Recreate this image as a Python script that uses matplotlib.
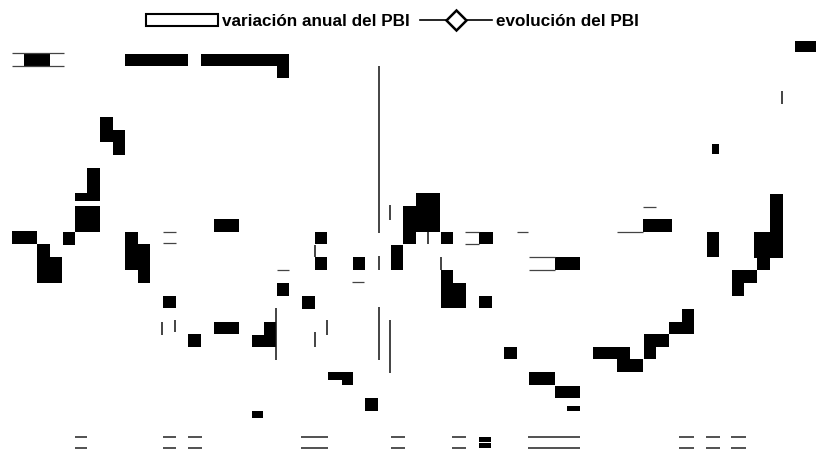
import matplotlib
matplotlib.use('Agg')
import matplotlib.pyplot as plt
from matplotlib.patches import Patch
from matplotlib.lines import Line2D

plt.rcParams['font.family'] = ['Liberation Sans', 'DejaVu Sans']

# bloques negros (x izq, x der, y arriba, y abajo)
top_blocks = [(24, 50, 54, 66), (125, 188, 54, 66), (201, 289, 54, 66),
              (277, 289, 66, 78), (795, 816, 41, 52)]
left_blocks = [(100, 112.5, 117, 142), (112.5, 125, 130, 155), (87, 99.5, 168, 193),
               (75, 99.5, 193, 201), (75, 99.5, 206, 232), (12, 37, 231, 244),
               (37, 49.5, 244, 283), (49.5, 62, 257, 283), (62.5, 75, 232, 245),
               (125, 137.5, 232, 270), (137.5, 150, 244, 283), (163, 176, 296, 308),
               (214, 239, 219, 232), (188, 201, 334, 347), (214, 239, 322, 334),
               (252, 276, 335, 347), (264, 276, 322, 335), (252, 263, 411, 418)]
mid_blocks = [(276.5, 289, 283, 296), (302, 314.5, 296, 309), (314.5, 327, 232, 244),
              (314.5, 327, 257, 270), (352.5, 364.5, 257, 270), (328, 342, 372, 380),
              (342, 352.5, 372, 385), (365, 378, 398, 411), (391, 403, 245, 270),
              (403, 415.5, 206, 244), (415.5, 440, 193, 232), (441, 453, 232, 244),
              (478.5, 492.5, 232, 244), (441, 453, 270, 308), (453, 466, 283, 308),
              (479, 491.5, 296, 308), (504, 516.5, 347, 359), (529, 555, 372, 385),
              (555, 580, 386, 398), (567, 580, 406, 411), (555, 580, 257, 270)]
right_blocks = [(643, 671.5, 219, 232), (706.5, 718.5, 232, 257), (712, 718.5, 144, 154),
                (770, 782.5, 194, 258), (753.5, 770, 232, 258), (756.5, 770, 258, 270),
                (731.5, 756.5, 270, 283), (731.5, 744, 283, 296), (681.5, 694, 309, 334),
                (668.5, 681.5, 322, 334), (643.5, 668.5, 334, 347), (643.5, 656, 347, 359),
                (592.5, 630, 347, 359), (617, 643, 359, 372)]

# lineas finas (y, x0, x1) y (x, y0, y1)
thin_h = [(53, 12, 64), (65.5, 12, 64), (232, 163, 176), (243, 163, 176),
          (270, 276.5, 289), (282, 352, 364), (232, 465, 478.5), (243.5, 465, 478.5),
          (232, 517, 528), (257, 529, 555), (269.5, 529, 555), (231.7, 617, 643),
          (206.7, 643, 656)]
thin_v = [(378.5, 66, 233), (378.5, 256, 270), (378.5, 307, 360), (390, 320, 373),
          (390, 205, 220), (276, 308, 360), (315, 245, 257), (441, 257, 270),
          (428, 232, 244), (782, 91, 104), (162, 322, 335), (175, 320, 332),
          (315, 332, 347), (327, 320, 335)]

# marcas dobles del eje inferior (x0, x1)
bottom_marks = [(75, 87), (163, 176), (188, 202), (301, 328), (391, 405),
                (452, 466), (528, 580), (679, 694), (706, 720), (731, 746)]
bottom_fill = [(479, 491, 436.7, 441.7), (479, 491, 443.3, 448.3)]

fig = plt.figure(figsize=(8.16, 4.5), dpi=100)
ax = fig.add_axes([0, 0, 1, 1])
ax.set_xlim(0, 816)
ax.set_ylim(450, 0)
ax.axis('off')

blocks = top_blocks + left_blocks + mid_blocks + right_blocks + bottom_fill
ax.bar([b[0] for b in blocks], [b[3] - b[2] for b in blocks],
       width=[b[1] - b[0] for b in blocks], bottom=[b[2] for b in blocks],
       align='edge', color='black', linewidth=0)

for y, x0, x1 in thin_h:
    ax.hlines(y, x0, x1, color='#444444', linewidth=0.9)
for x, y0, y1 in thin_v:
    ax.vlines(x, y0, y1, color='#111111', linewidth=1.1)
for x0, x1 in bottom_marks:
    ax.hlines([437, 448], x0, x1, color='#222222', linewidth=1.1)

handles = [Patch(facecolor='white', edgecolor='black', linewidth=1.5),
           Line2D([], [], color='black', linewidth=1.2, marker='D', markersize=10,
                  markerfacecolor='white', markeredgecolor='black', markeredgewidth=1.8)]
fig.legend(handles, ['variación anual del PBI', 'evolución del PBI'],
           loc='center', bbox_to_anchor=(0.481, 0.953), ncol=2, frameon=False,
           prop={'size': 12.3, 'weight': 'bold'}, handlelength=4.2, handleheight=0.7,
           handletextpad=0.25, columnspacing=0.6, borderpad=0)

fig.savefig('out.png', dpi=100)
